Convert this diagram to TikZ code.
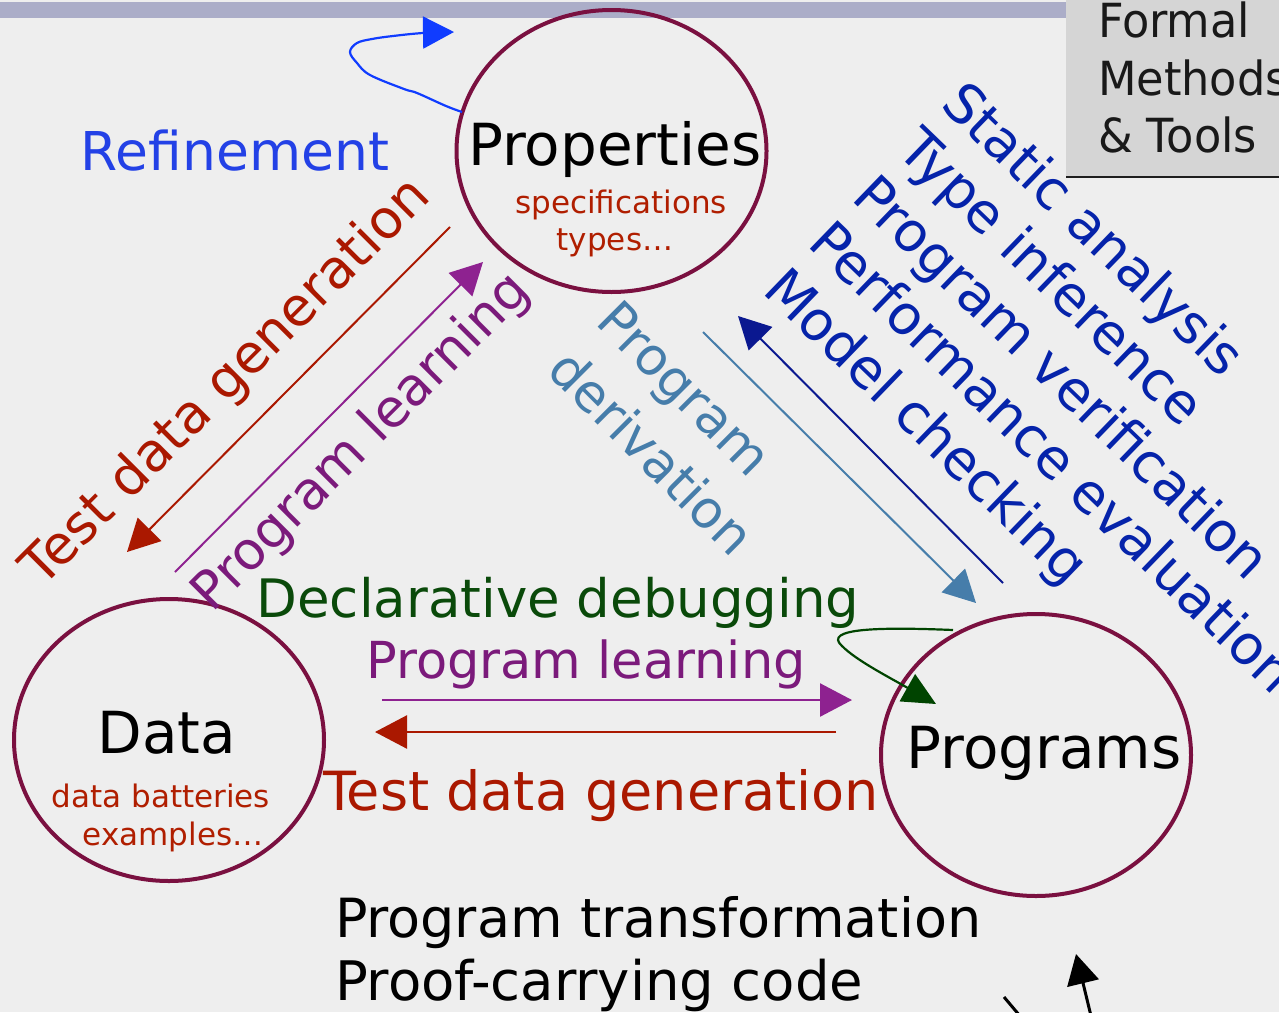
\documentclass[tikz,border=0pt]{standalone}
\usepackage{fontspec}
\setmainfont{DejaVu Sans}
\newfontfamily\fmtfont[FakeStretch=0.95]{DejaVu Sans}
\usetikzlibrary{shapes.geometric,arrows.meta}
\definecolor{bgc}{RGB}{238,238,238}
\definecolor{barc}{RGB}{171,173,200}
\definecolor{boxc}{RGB}{213,213,213}
\definecolor{boxline}{RGB}{30,30,30}
\definecolor{maroonc}{RGB}{122,16,64}
\definecolor{redc}{RGB}{170,24,0}
\definecolor{subred}{RGB}{176,30,0}
\definecolor{purpt}{RGB}{123,26,123}
\definecolor{purpa}{RGB}{142,34,144}
\definecolor{greent}{RGB}{10,74,10}
\definecolor{greena}{RGB}{0,68,0}
\definecolor{steelc}{RGB}{70,125,170}
\definecolor{navyt}{RGB}{5,35,170}
\definecolor{navya}{RGB}{10,24,144}
\definecolor{refc}{RGB}{35,65,230}
\definecolor{loopc}{RGB}{16,60,255}
\definecolor{titlec}{RGB}{12,50,90}
\tikzset{
  lbl/.style={inner sep=0pt, outer sep=0pt},
  bigf/.style={lbl, font=\fontsize{58}{70}\selectfont},
  subf/.style={lbl, font=\fontsize{31}{37}\selectfont, text=subred},
  listf/.style={lbl, font=\fontsize{54.5}{64}\selectfont, text=navyt, rotate=-44, anchor=base west},
  fmtf/.style={lbl, anchor=base west, font=\fmtfont\fontsize{47}{56}\selectfont, text=black!90},
  circ/.style={draw=maroonc, line width=4pt, ellipse, minimum width=310pt, minimum height=282pt, inner sep=0pt},
  arr/.style={-{Triangle[length=32pt,width=33pt]}, line width=2pt},
}
\begin{document}
\begin{tikzpicture}[x=1pt,y=-1pt]
\useasboundingbox (0,0) rectangle (1279,1012);
\clip (0,0) rectangle (1279,1012);
\fill[bgc] (0,0) rectangle (1279,1012);
% top bar, title remnant and corner box
\fill[barc] (0,2) rectangle (1066,18);
\node[lbl, anchor=base west, font=\fontsize{80}{90}\selectfont, text=titlec] (title) at (658,-17) {gy};
\fill[boxc] (1066,0) rectangle (1279,177);
\draw[line width=2.5pt, boxline] (1066,177) -- (1279,177);
\node[fmtf] (fm1) at (1098,37) {Formal};
\node[fmtf] (fm2) at (1098,95) {Methods};
\node[fmtf] (fm3) at (1098,152) {\& Tools};

% ellipses
\node[circ] (prop) at (611.5,151) {};
\node[circ] (data) at (169,740) {};
\node[circ] (progs) at (1036,755) {};

\node[bigf, anchor=base] (propt) at (615,165) {Properties};
\node[subf, anchor=base] (props1) at (621,213) {specifications};
\node[subf, anchor=base] (props2) at (615,250) {types…};

\node[bigf, anchor=base] (datat) at (167,753) {Data};
\node[subf, anchor=base] (datas1) at (161,807) {data batteries};
\node[subf, anchor=base] (datas2) at (173,845) {examples…};

\node[bigf, anchor=base] (progst) at (1044,768) {Programs};

% refinement loop
\coordinate (rfs) at (462,112);
\coordinate (rfe) at (454,32);
\draw[loopc, line width=2.2pt, -{Triangle[length=31pt,width=32pt]}]
  plot[smooth, tension=0.6] coordinates {(rfs) (446,106) (417,93) (404,89) (370,75) (357,63) (350,52) (357,43) (372,39) (393,36) (423,33) (rfe)};
\node[lbl, font=\fontsize{53.5}{64}\selectfont, anchor=base, text=refc] (reft) at (235,170) {Refinement};

% left diagonal arrows
\coordinate (a1s) at (450,227); \coordinate (a1e) at (127,552);
\draw[arr, redc] (a1s) -- (a1e);
\coordinate (a2s) at (175,572); \coordinate (a2e) at (483,262);
\draw[arr, purpa] (a2s) -- (a2e);
\node[lbl, font=\fontsize{53.5}{64}\selectfont, rotate=45, text=redc] (tdgd) at (227,383) {Test data generation};
\node[lbl, font=\fontsize{52.5}{62}\selectfont, rotate=45, text=purpt] (pld) at (362,443) {Program learning};

% right diagonal arrows
\coordinate (a3s) at (703,332); \coordinate (a3e) at (976,603);
\draw[arr, steelc] (a3s) -- (a3e);
\coordinate (a4s) at (1003,583); \coordinate (a4e) at (738,316);
\draw[arr, navya] (a4s) -- (a4e);
\node[lbl, font=\fontsize{52}{69}\selectfont, rotate=-45, text=steelc, align=left] (pder) at (676,428) {Program\\derivation};

\node[listf] (l1) at (939,106) {Static analysis};
\node[listf] (l2) at (895,152) {Type inference};
\node[listf] (l3) at (850,199) {Program verification};
\node[listf] (l4) at (806,245) {Performance evaluation};
\node[listf] (l5) at (761,292) {Model checking};

% horizontal arrows
\node[lbl, font=\fontsize{53}{64}\selectfont, anchor=base, text=greent] (decl) at (558,617) {Declarative debugging};
\node[lbl, font=\fontsize{51}{62}\selectfont, anchor=base, text=purpt] (plh) at (586,678) {Program learning};
\node[lbl, font=\fontsize{54}{64}\selectfont, anchor=base, text=redc] (tdgh) at (601,810) {Test data generation};
\coordinate (h1s) at (382,700); \coordinate (h1e) at (852,700);
\draw[arr, purpa, line width=2.5pt] (h1s) -- (h1e);
\coordinate (h2s) at (836,732); \coordinate (h2e) at (375,732);
\draw[arr, redc, line width=2.5pt] (h2s) -- (h2e);

% declarative debugging loop
\coordinate (dds) at (953,630); \coordinate (dde) at (936,704);
\draw[greena, line width=2.2pt, -{Triangle[length=33pt,width=31pt]}]
  (dds) .. controls (880,627) and (822,628) .. (842,646) .. controls (856,660) and (885,675) .. (dde);

% bottom texts
\node[lbl, font=\fontsize{54}{64}\selectfont, anchor=base west] (ptr) at (335,937) {Program transformation};
\node[lbl, font=\fontsize{54.5}{64}\selectfont, anchor=base west] (pcc) at (335,1000) {Proof-carrying code};

% bottom right arrows
\coordinate (b1s) at (1091,1016); \coordinate (b1e) at (1076,954);
\draw[black, line width=3pt, -{Triangle[length=30pt,width=32pt]}] (b1s) -- (b1e);
\coordinate (b2s) at (1004,997); \coordinate (b2e) at (1020,1016);
\draw[black, line width=3pt] (b2s) -- (b2e);
\end{tikzpicture}
\end{document}
